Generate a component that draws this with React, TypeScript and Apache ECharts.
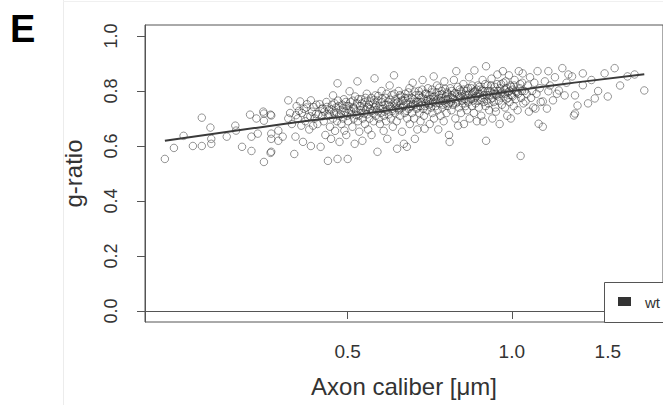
import React, { useEffect, useRef } from "react";
import * as echarts from "echarts";

// Axis ticks and labels
const xTickValues = [0.5, 1.0, 1.5];
const yTickValues = [0, 0.2, 0.4, 0.6, 0.8, 1.0];
const xTitle = "Axon caliber [μm]";
const yTitle = "g-ratio";
const panelLetter = "E";
const legendLabel = "wt";

// Scatter points [axon caliber (µm), g-ratio]
const wtSmall: number[][] = [
  [0.231, 0.553], [0.24, 0.593], [0.25, 0.637], [0.26, 0.6], [0.27, 0.6], [0.27, 0.703],
  [0.28, 0.667], [0.281, 0.626], [0.281, 0.608], [0.3, 0.634], [0.311, 0.674], [0.312, 0.656],
  [0.32, 0.597], [0.333, 0.582], [0.331, 0.714], [0.333, 0.634], [0.342, 0.645], [0.34, 0.7],
  [0.35, 0.725], [0.351, 0.542], [0.361, 0.575], [0.361, 0.714], [0.362, 0.645], [0.362, 0.626],
  [0.351, 0.692], [0.373, 0.656], [0.373, 0.619], [0.351, 0.718], [0.362, 0.711], [0.362, 0.579],
];
const wtA: number[][] = [
  [0.38, 0.634], [0.389, 0.766], [0.389, 0.7], [0.392, 0.72], [0.395, 0.68], [0.399, 0.571],
  [0.401, 0.634], [0.403, 0.745], [0.405, 0.7], [0.409, 0.762], [0.411, 0.674], [0.412, 0.72],
  [0.414, 0.615], [0.418, 0.69], [0.42, 0.74], [0.422, 0.705], [0.425, 0.66], [0.428, 0.766],
  [0.428, 0.6], [0.43, 0.725], [0.432, 0.674], [0.435, 0.7], [0.438, 0.75], [0.44, 0.68],
  [0.442, 0.715], [0.446, 0.597], [0.448, 0.735], [0.45, 0.736],
];
const wtB: number[][] = [
  [0.452, 0.69], [0.455, 0.64], [0.457, 0.76], [0.46, 0.546], [0.46, 0.71], [0.462, 0.73],
  [0.464, 0.67], [0.466, 0.626], [0.468, 0.75], [0.47, 0.784], [0.47, 0.7], [0.472, 0.72],
  [0.474, 0.655], [0.476, 0.74], [0.478, 0.69], [0.479, 0.828], [0.479, 0.553], [0.48, 0.765],
  [0.482, 0.71], [0.483, 0.615], [0.485, 0.73], [0.487, 0.68], [0.489, 0.75], [0.49, 0.7],
  [0.492, 0.77], [0.493, 0.656], [0.495, 0.725], [0.497, 0.64], [0.498, 0.745], [0.499, 0.71],
];
const wtC: number[][] = [
  [0.5, 0.553], [0.501, 0.69], [0.503, 0.73], [0.504, 0.799], [0.506, 0.76], [0.508, 0.715],
  [0.51, 0.67], [0.512, 0.74], [0.513, 0.7], [0.515, 0.608], [0.516, 0.78], [0.518, 0.725],
  [0.52, 0.755], [0.521, 0.835], [0.522, 0.69], [0.524, 0.71], [0.525, 0.652], [0.527, 0.745],
  [0.529, 0.77], [0.53, 0.72], [0.532, 0.619], [0.533, 0.7], [0.535, 0.74], [0.537, 0.76],
  [0.538, 0.68], [0.54, 0.73], [0.542, 0.79], [0.543, 0.715], [0.545, 0.66], [0.547, 0.75],
  [0.548, 0.7], [0.55, 0.735], [0.552, 0.775], [0.553, 0.64], [0.555, 0.72], [0.557, 0.755],
  [0.558, 0.69], [0.56, 0.846], [0.56, 0.74],
];
const wtD: number[][] = [
  [0.562, 0.784], [0.563, 0.71], [0.565, 0.73], [0.567, 0.579], [0.568, 0.765], [0.57, 0.7],
  [0.572, 0.745], [0.573, 0.68], [0.575, 0.72], [0.577, 0.8], [0.578, 0.76], [0.58, 0.735],
  [0.582, 0.655], [0.583, 0.71], [0.585, 0.75], [0.587, 0.775], [0.588, 0.69], [0.59, 0.73],
  [0.591, 0.626], [0.593, 0.76], [0.595, 0.715], [0.597, 0.82], [0.598, 0.745], [0.6, 0.7],
  [0.602, 0.785], [0.603, 0.735], [0.605, 0.67], [0.607, 0.755], [0.608, 0.857], [0.61, 0.72],
  [0.612, 0.77], [0.613, 0.74], [0.615, 0.69], [0.616, 0.59], [0.618, 0.76], [0.62, 0.8],
  [0.621, 0.73], [0.623, 0.71], [0.625, 0.75], [0.627, 0.78], [0.629, 0.652],
];
const wtE: number[][] = [
  [0.63, 0.74], [0.632, 0.765], [0.634, 0.608], [0.636, 0.72], [0.638, 0.79], [0.64, 0.755],
  [0.642, 0.597], [0.643, 0.7], [0.645, 0.775], [0.647, 0.735], [0.649, 0.81], [0.65, 0.68],
  [0.652, 0.76], [0.654, 0.745], [0.656, 0.72], [0.658, 0.83], [0.66, 0.77], [0.662, 0.7],
  [0.664, 0.626], [0.665, 0.75], [0.667, 0.785], [0.669, 0.735], [0.671, 0.66], [0.673, 0.76],
  [0.675, 0.8], [0.677, 0.72], [0.679, 0.745], [0.68, 0.69], [0.682, 0.775], [0.684, 0.76],
  [0.686, 0.84], [0.688, 0.735], [0.69, 0.71], [0.692, 0.663], [0.694, 0.79], [0.696, 0.755],
  [0.698, 0.77],
];
const wtF: number[][] = [
  [0.7, 0.73], [0.702, 0.81], [0.705, 0.75], [0.707, 0.68], [0.709, 0.77], [0.711, 0.74],
  [0.713, 0.795], [0.715, 0.72], [0.717, 0.76], [0.719, 0.853], [0.72, 0.7], [0.722, 0.78],
  [0.725, 0.745], [0.727, 0.765], [0.729, 0.82], [0.731, 0.73], [0.733, 0.66], [0.735, 0.785],
  [0.737, 0.755], [0.74, 0.71], [0.742, 0.775], [0.744, 0.8], [0.746, 0.74], [0.748, 0.765],
  [0.75, 0.69], [0.752, 0.835], [0.755, 0.755], [0.757, 0.78], [0.759, 0.72], [0.761, 0.795],
  [0.763, 0.745], [0.765, 0.77], [0.767, 0.64], [0.769, 0.615], [0.771, 0.81], [0.773, 0.76],
  [0.775, 0.73], [0.777, 0.785],
];
const wtG: number[][] = [
  [0.78, 0.75], [0.783, 0.84], [0.785, 0.77], [0.788, 0.7], [0.791, 0.872], [0.793, 0.79],
  [0.795, 0.76], [0.797, 0.674], [0.8, 0.74], [0.802, 0.805], [0.805, 0.775], [0.807, 0.72],
  [0.81, 0.79], [0.812, 0.755], [0.815, 0.825], [0.817, 0.68], [0.82, 0.77], [0.822, 0.745],
  [0.825, 0.8], [0.827, 0.73], [0.83, 0.785], [0.832, 0.76], [0.835, 0.85], [0.837, 0.7],
  [0.84, 0.775], [0.842, 0.81], [0.845, 0.745], [0.847, 0.79], [0.85, 0.765], [0.852, 0.72],
  [0.854, 0.875], [0.856, 0.8], [0.858, 0.755], [0.861, 0.78], [0.863, 0.69], [0.866, 0.82],
  [0.868, 0.765],
];
const wtH: number[][] = [
  [0.87, 0.74], [0.873, 0.79], [0.876, 0.805], [0.879, 0.71], [0.882, 0.775], [0.884, 0.84],
  [0.886, 0.689], [0.889, 0.76], [0.892, 0.8], [0.895, 0.745], [0.897, 0.89], [0.897, 0.619],
  [0.9, 0.785], [0.903, 0.82], [0.906, 0.755], [0.909, 0.73], [0.912, 0.8], [0.915, 0.77],
  [0.918, 0.845], [0.921, 0.7], [0.924, 0.79], [0.927, 0.76], [0.93, 0.815], [0.933, 0.74],
  [0.935, 0.725], [0.938, 0.785], [0.941, 0.86], [0.944, 0.8], [0.947, 0.765], [0.95, 0.68],
  [0.953, 0.79], [0.956, 0.825], [0.959, 0.75],
];
const wtI: number[][] = [
  [0.963, 0.872], [0.966, 0.78], [0.969, 0.805], [0.972, 0.74], [0.975, 0.835], [0.978, 0.77],
  [0.981, 0.71], [0.985, 0.795], [0.988, 0.857], [0.991, 0.76], [0.994, 0.82], [0.996, 0.7],
  [1.0, 0.785], [1.004, 0.805], [1.008, 0.745], [1.012, 0.84], [1.016, 0.77], [1.02, 0.795],
  [1.025, 0.73], [1.03, 0.872], [1.034, 0.81], [1.038, 0.564], [1.04, 0.775], [1.045, 0.83],
  [1.047, 0.864], [1.05, 0.755], [1.055, 0.8], [1.06, 0.762],
];
const wtJ: number[][] = [
  [1.065, 0.79], [1.07, 0.82], [1.075, 0.725], [1.08, 0.85], [1.085, 0.775], [1.09, 0.8],
  [1.095, 0.74], [1.1, 0.83], [1.105, 0.736], [1.11, 0.79], [1.115, 0.872], [1.12, 0.681],
  [1.125, 0.81], [1.13, 0.76], [1.14, 0.762], [1.14, 0.67], [1.15, 0.835], [1.16, 0.736],
  [1.167, 0.799], [1.167, 0.872], [1.175, 0.82], [1.19, 0.766], [1.2, 0.85], [1.21, 0.79],
  [1.22, 0.802], [1.238, 0.883], [1.25, 0.784], [1.26, 0.83], [1.27, 0.86], [1.29, 0.853],
  [1.3, 0.711], [1.306, 0.784], [1.32, 0.747], [1.306, 0.718],
];
const wtLarge: number[][] = [
  [1.35, 0.864], [1.35, 0.821], [1.38, 0.755], [1.4, 0.84], [1.42, 0.773], [1.44, 0.8],
  [1.48, 0.864], [1.5, 0.78], [1.544, 0.883], [1.58, 0.82], [1.63, 0.853], [1.68, 0.86],
  [1.75, 0.802],
];
// Dense core of the cloud
const wtCore1: number[][] = [
  [0.402, 0.712], [0.407, 0.728], [0.416, 0.735], [0.421, 0.752], [0.427, 0.708], [0.433, 0.742],
  [0.437, 0.716], [0.444, 0.752], [0.449, 0.708], [0.453, 0.725], [0.458, 0.742], [0.463, 0.715],
  [0.467, 0.733], [0.473, 0.755], [0.477, 0.722], [0.481, 0.745], [0.486, 0.715], [0.491, 0.738],
  [0.496, 0.76], [0.502, 0.745], [0.507, 0.728], [0.511, 0.765], [0.514, 0.735], [0.519, 0.712],
  [0.523, 0.77], [0.528, 0.73], [0.531, 0.755], [0.536, 0.718], [0.539, 0.775], [0.544, 0.742],
  [0.549, 0.762], [0.554, 0.728],
];
const wtCore2: number[][] = [
  [0.559, 0.768], [0.564, 0.748], [0.569, 0.782], [0.574, 0.735], [0.579, 0.772], [0.584, 0.725],
  [0.589, 0.79], [0.594, 0.748], [0.599, 0.768], [0.604, 0.728], [0.609, 0.79], [0.614, 0.755],
  [0.619, 0.738], [0.624, 0.785], [0.628, 0.765], [0.633, 0.745], [0.637, 0.775], [0.641, 0.728],
  [0.646, 0.795], [0.651, 0.742], [0.655, 0.775], [0.659, 0.752], [0.663, 0.798], [0.668, 0.762],
  [0.672, 0.74], [0.676, 0.785], [0.681, 0.758], [0.685, 0.805], [0.689, 0.772], [0.693, 0.745],
  [0.697, 0.79],
];
const wtCore3: number[][] = [
  [0.701, 0.765], [0.706, 0.785], [0.71, 0.755], [0.714, 0.805], [0.718, 0.778], [0.723, 0.758],
  [0.728, 0.795], [0.732, 0.772], [0.736, 0.812], [0.741, 0.765], [0.745, 0.788], [0.749, 0.75],
  [0.754, 0.808], [0.758, 0.768], [0.762, 0.79], [0.766, 0.755], [0.772, 0.778], [0.776, 0.8],
  [0.781, 0.772], [0.786, 0.792], [0.79, 0.755], [0.796, 0.815], [0.801, 0.78], [0.806, 0.798],
  [0.811, 0.765], [0.816, 0.805], [0.821, 0.785], [0.826, 0.765], [0.831, 0.81], [0.836, 0.79],
  [0.841, 0.77], [0.846, 0.82], [0.851, 0.795], [0.857, 0.775],
];
const wtCore4: number[][] = [
  [0.862, 0.805], [0.867, 0.79], [0.872, 0.815], [0.877, 0.768], [0.883, 0.8], [0.888, 0.785],
  [0.894, 0.825], [0.899, 0.765], [0.905, 0.8], [0.91, 0.785], [0.916, 0.82], [0.922, 0.775],
  [0.928, 0.8], [0.934, 0.79], [0.94, 0.825], [0.946, 0.78], [0.952, 0.81], [0.958, 0.795],
  [0.965, 0.83], [0.971, 0.79], [0.977, 0.81], [0.984, 0.775], [0.99, 0.8], [0.997, 0.815],
  [1.003, 0.78], [1.01, 0.82], [1.018, 0.8], [1.027, 0.79], [1.036, 0.825], [1.044, 0.8],
];

// Smoothed fit line [axon caliber, g-ratio]
const fitLine: number[][] = [
  [0.231, 0.619], [0.384, 0.681], [0.521, 0.714], [0.759, 0.762],
  [1.017, 0.802], [1.362, 0.835], [1.75, 0.861],
];

const wtPoints = [
  ...wtSmall, ...wtA, ...wtB, ...wtC, ...wtD, ...wtE, ...wtF,
  ...wtG, ...wtH, ...wtI, ...wtJ, ...wtLarge,
  ...wtCore1, ...wtCore2, ...wtCore3, ...wtCore4,
];

const FONT = "'Liberation Sans', Arial, Helvetica, sans-serif";
const INK = "#333";

export default function App() {
  const ref = useRef<HTMLDivElement>(null);

  useEffect(() => {
    if (!ref.current) return;
    const chart = echarts.init(ref.current, null, { renderer: "svg" });
    chart.setOption({
      animation: false,
      backgroundColor: "#fff",
      grid: {
        left: 145,
        top: 25,
        right: -6,
        bottom: 83,
        show: true,
        borderColor: "#555",
        borderWidth: 1,
        containLabel: false,
      },
      xAxis: {
        type: "log",
        logBase: 10,
        min: 0.2124,
        max: 1.894,
        name: xTitle,
        nameLocation: "middle",
        nameGap: 52,
        nameTextStyle: { fontFamily: FONT, fontSize: 24, color: INK },
        axisLine: { show: true, lineStyle: { color: "#555", width: 1 } },
        axisTick: {
          show: true,
          inside: false,
          length: 8,
          customValues: xTickValues,
          lineStyle: { color: "#555", width: 1 },
        },
        axisLabel: {
          show: true,
          customValues: xTickValues,
          margin: 20,
          fontFamily: FONT,
          fontSize: 19,
          color: INK,
          formatter: (v: number) => Number(v).toFixed(1),
        },
        splitLine: { show: false },
        minorTick: { show: false },
      },
      yAxis: {
        type: "value",
        min: -0.04,
        max: 1.04,
        name: yTitle,
        nameLocation: "middle",
        nameGap: 60,
        nameRotate: 90,
        nameTextStyle: { fontFamily: FONT, fontSize: 24, color: INK },
        axisLine: { show: true, lineStyle: { color: "#555", width: 1 } },
        axisTick: {
          show: true,
          inside: false,
          length: 8,
          customValues: yTickValues,
          lineStyle: { color: "#555", width: 1 },
        },
        axisLabel: {
          show: true,
          customValues: yTickValues,
          rotate: 90,
          margin: 25,
          fontFamily: FONT,
          fontSize: 18,
          color: INK,
          formatter: (v: number) => Number(v).toFixed(1),
        },
        splitLine: { show: false },
      },
      series: [
        {
          name: legendLabel,
          type: "scatter",
          data: wtPoints,
          symbol: "circle",
          symbolSize: 7.5,
          itemStyle: {
            color: "rgba(0,0,0,0)",
            borderColor: "rgba(40,40,40,0.62)",
            borderWidth: 1,
          },
          z: 2,
        },
        {
          name: "fit",
          type: "line",
          data: fitLine,
          smooth: true,
          showSymbol: false,
          symbol: "none",
          lineStyle: { color: "#3a3a3a", width: 2 },
          z: 3,
        },
      ],
      graphic: [
        {
          type: "line",
          shape: { x1: 63.5, y1: 0, x2: 63.5, y2: 405 },
          style: { stroke: "#ececec", lineWidth: 1 },
          silent: true,
        },
        {
          type: "line",
          shape: { x1: 63, y1: 1.5, x2: 663, y2: 1.5 },
          style: { stroke: "#f0f0f0", lineWidth: 1 },
          silent: true,
        },
        {
          type: "text",
          left: 10,
          top: 10,
          style: {
            text: panelLetter,
            fontFamily: FONT,
            fontSize: 38,
            fontWeight: "bold",
            fill: "#000",
          },
        },
        {
          type: "rect",
          shape: { x: 604.5, y: 282.5, width: 80, height: 40 },
          style: { fill: "#fff", stroke: "#555", lineWidth: 1 },
          z: 10,
        },
        {
          type: "rect",
          shape: { x: 618, y: 297, width: 13, height: 9 },
          style: { fill: "#333" },
          z: 11,
        },
        {
          type: "text",
          x: 645,
          y: 302,
          style: {
            text: legendLabel,
            fontFamily: FONT,
            fontSize: 15,
            fill: INK,
            verticalAlign: "middle",
          },
          z: 11,
        },
      ],
    });
    return () => chart.dispose();
  }, []);

  return (
    <div
      ref={ref}
      style={{ position: "absolute", left: 0, top: 0, width: 663, height: 405 }}
    />
  );
}
